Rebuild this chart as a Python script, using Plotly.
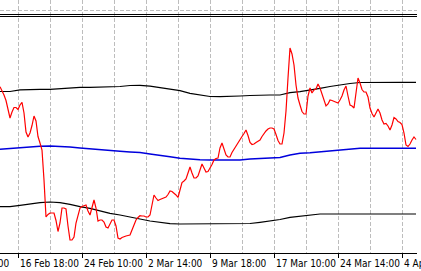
import plotly.graph_objects as go

# ---- data (indicator values per bar) ----
red_values = [
    63.3, 59.5, 55, 49.5, 41.5, 32, 38, 42.5, 42.5, 40.5,
    45, 47.7, 37, 18, 13, 17, 24.5, 34, 29, 13.5,
    7, 0, -30, -67, -64.5, -63, -63, -63, -70.5, -81.5,
    -73, -58, -58, -59, -76, -90, -90, -87, -73, -64,
    -58, -56.5, -55.5, -55, -61, -65, -57.5, -50, -58, -71,
    -70, -70, -72, -77, -78, -73, -70, -70, -76, -88,
    -89, -87.5, -86.5, -86, -85.5, -85, -80, -75.5, -70, -67.5,
    -65.7, -66, -66, -67, -67, -65, -56, -45, -48, -50.5,
    -49.5, -48.5, -48, -47, -44.5, -41, -41.5, -43, -45, -47.5,
    -40, -32.5, -31, -29, -23, -17, -23, -28, -28, -26,
    -20, -14, -18, -22, -21.5, -18.5, -14.5, -10, -8.5, -8,
    2, 7, 1, -5, -7, -7, -2.5, 1, 4.5, 7.5,
    10.5, 13.5, 16.5, 20, 14.5, 7.5, 5.5, 6, 7.5, 8.5,
    10, 13.5, 17, 19, 21, 22, 22, 21, 15.5, 9.5,
    6, 6, 17, 39, 72, 102, 96, 85, 65, 52,
    45, 38.5, 36, 36, 54, 62, 57, 60, 61, 66,
    62, 55.5, 48, 44, 46, 50, 49.5, 48.5, 47.5, 47,
    50, 54, 60, 64, 54, 45, 44, 42, 57, 72,
    67, 60.5, 58, 58, 53, 42, 36.5, 33, 37, 41,
    37, 30, 26, 26.5, 24, 20, 25, 32.5, 31, 28.5,
    27.5, 25.5, 17, 5, 3.5, 6, 10, 13, 10.5,
]

band_bars = list(range(0, 206, 5)) + [208]
upper_band = [
    58.5, 58.5, 60.2, 60.7, 60.7, 60.7, 61.5, 61.7, 62.7, 62.7,
    62.8, 63.3, 63.5, 64.5, 64.7, 63.8, 62.5, 61, 59.3, 56.7,
    55, 53.5, 53.3, 53.3, 54, 54.5, 55, 55, 55, 57.3,
    58.3, 59.7, 61.7, 63.5, 65.2, 66.5, 67.5, 67.7, 67.7, 67.7,
    67.7, 67.7, 67.7,
]
middle_band = [
    0.7, 1.5, 2.8, 3.2, 3.7, 4, 3.7, 3, 2, 1,
    0.5, -0.7, -1.3, -2, -2.5, -4, -5, -6.7, -8.3, -9.2,
    -9.8, -10, -10, -10, -10, -9, -8.3, -7.8, -7.5, -5,
    -3.3, -2.7, -1.7, -0.6, 0.2, 1, 1.7, 1.7, 1.7, 1.7,
    1.7, 1.7, 1.7,
]
lower_band = [
    -56.7, -56.7, -55.3, -53.8, -52.7, -52, -52.7, -54.3, -56.7, -58.3,
    -61, -63.3, -65, -67.3, -69, -71, -72.7, -73.7, -74, -74,
    -74, -74, -74, -74, -74, -73.5, -72.3, -71, -69.5, -67.3,
    -66, -65, -64, -64, -64, -64, -64, -64, -64, -64,
    -64, -64, -64,
]

tick_bars = [-23, 9, 41, 73, 105, 137, 169, 201]
tick_labels = ["9 Feb 14:00", "16 Feb 18:00", "24 Feb 10:00", "2 Mar 14:00",
               "9 Mar 18:00", "17 Mar 10:00", "24 Mar 14:00", "4 Apr 10:00"]
minor_grid_bars = [-7, 25, 57, 89, 121, 153, 185, 217]
main_grid_level = 140
separator_levels = [135.5, 133.5]

# ---- figure ----
bars = list(range(len(red_values)))
X_RANGE = [0, 208.5]
Y_RANGE = [-103, 150]
GRID = "#bdbdbd"
DASH = "4px,2px"
FONT = "Liberation Sans Narrow, DejaVu Sans Condensed, Arial Narrow, sans-serif"

fig = go.Figure()
fig.add_trace(go.Scatter(x=band_bars, y=upper_band, mode="lines",
                         line=dict(color="black", width=1.2), hoverinfo="skip"))
fig.add_trace(go.Scatter(x=band_bars, y=lower_band, mode="lines",
                         line=dict(color="black", width=1.2), hoverinfo="skip"))
fig.add_trace(go.Scatter(x=band_bars, y=middle_band, mode="lines",
                         line=dict(color="#0000dd", width=1.4), hoverinfo="skip"))
fig.add_trace(go.Scatter(x=bars, y=red_values, mode="lines",
                         line=dict(color="#ff0000", width=1.2), hoverinfo="skip"))

for lvl in separator_levels:
    fig.add_shape(type="line", xref="paper", x0=0, x1=1, yref="y", y0=lvl, y1=lvl,
                  line=dict(color="black", width=1))

def to_paper(b):
    return (b - X_RANGE[0]) / (X_RANGE[1] - X_RANGE[0])

for b, t in zip(tick_bars, tick_labels):
    fig.add_annotation(text=t, xref="paper", yref="paper", x=to_paper(b), y=0,
                       xanchor="left", yanchor="top", yshift=-3, showarrow=False,
                       font=dict(family=FONT, size=10, color="black"))

fig.update_layout(
    width=421, height=271,
    margin=dict(l=0, r=4, t=0, b=18),
    paper_bgcolor="white", plot_bgcolor="white",
    showlegend=False,
    xaxis=dict(range=X_RANGE, tickmode="array", tickvals=tick_bars[1:],
               showticklabels=False, ticks="outside", ticklen=4, tickcolor="black",
               tickwidth=1, showgrid=True, gridcolor=GRID, griddash=DASH,
               gridwidth=1, zeroline=False, showline=True, linecolor="black",
               linewidth=1,
               minor=dict(tickmode="array", tickvals=minor_grid_bars, showgrid=True,
                          gridcolor=GRID, griddash=DASH, gridwidth=1, ticks="")),
    yaxis=dict(range=Y_RANGE, tickmode="array", tickvals=[main_grid_level],
               showticklabels=False, ticks="", showgrid=True, gridcolor=GRID,
               griddash=DASH, gridwidth=1, zeroline=False, showline=False),
)

fig.write_html("out.html")
